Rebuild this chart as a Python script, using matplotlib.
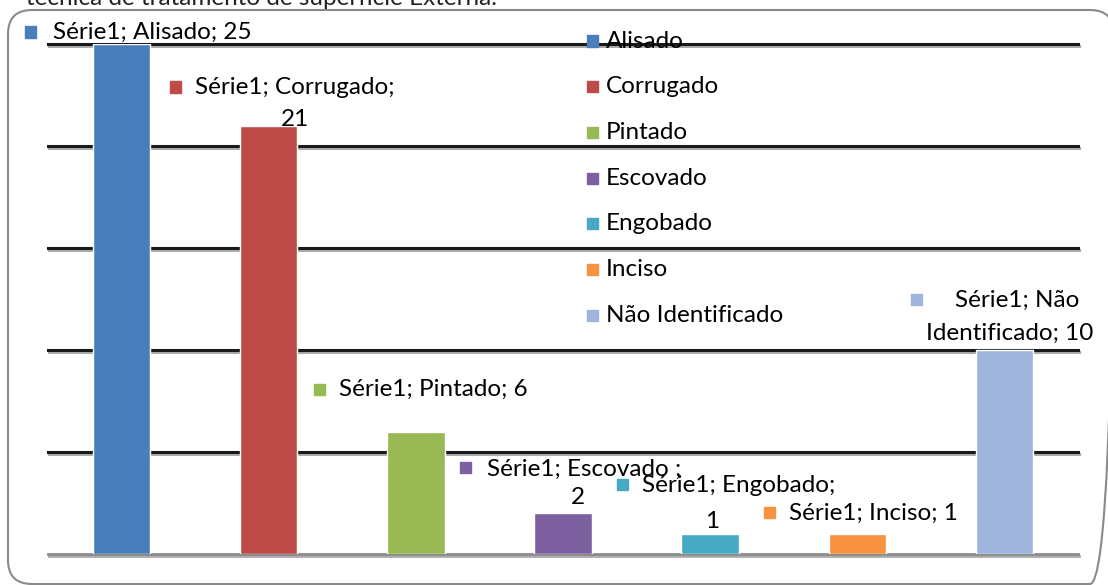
import matplotlib
matplotlib.use("Agg")
import matplotlib.pyplot as plt
from matplotlib.patches import Rectangle, FancyBboxPatch
import matplotlib.patheffects as pe

W, H = 1108, 585
plt.rcParams['font.family'] = ['Lato', 'DejaVu Sans']

categories = ["Alisado", "Corrugado", "Pintado", "Escovado", "Engobado", "Inciso", "Não Identificado"]
values = [25, 21, 6, 2, 1, 1, 10]
colors = ["#4A7EBB", "#BE4B48", "#98B954", "#7D60A0", "#46AAC5", "#F69240", "#A0B5DB"]
series_name = "Série1"
title = "técnica de tratamento de superfície Externa."
yticks = [5, 10, 15, 20, 25]
FS = 17.5

fig = plt.figure(figsize=(W / 100, H / 100), dpi=100)
fx = lambda px: px / W
fy = lambda py: 1 - py / H

# background overlay axes in pixel units for the rounded border
bg = fig.add_axes([0, 0, 1, 1])
bg.set_xlim(0, W)
bg.set_ylim(H, 0)
bg.axis('off')
bg.add_patch(FancyBboxPatch((8, 10), 1106, 574,
                            boxstyle="round,pad=0,rounding_size=24",
                            fill=False, edgecolor="#8a8a8a", lw=1.5, clip_on=False))

# partial title (cut at top)
fig.text(fx(26), fy(5), title, fontsize=FS, ha='left', va='baseline', color='#222')

ax = fig.add_axes([fx(48), fy(554), fx(1078) - fx(48), (554 - 44) / H])
ax.set_xlim(-0.5, len(categories) - 0.5)
ax.set_ylim(0, 25)
ax.axis('off')

shadow = [pe.SimpleLineShadow(offset=(0.8, -1.5), shadow_color='#888', alpha=0.7), pe.Normal()]
for t in yticks:
    ax.axhline(t, color='#1a1a1a', lw=2.2, zorder=1, path_effects=shadow, clip_on=False)
ax.axhline(0, color='#8c8c8c', lw=2, zorder=1, path_effects=shadow, clip_on=False)

x = list(range(len(categories)))
ax.bar(x, values, width=0.39, color=colors, edgecolor='white', lw=1, zorder=3)

def sq(px, py, c, s=11):
    fig.patches.append(Rectangle((fx(px - s / 2), fy(py + s / 2)), s / W, s / H,
                                 transform=fig.transFigure, color=c, zorder=5))

def txt(px, py, s, ha='left'):
    fig.text(fx(px), fy(py), s, fontsize=FS, ha=ha, va='center', color='black', zorder=6)

# legend
for i, (cat, c) in enumerate(zip(categories, colors)):
    py = 41 + i * 45.7
    sq(592, py, c)
    txt(606, py, cat)

# data labels
lab = lambda i: f"{series_name}; {categories[i]}; {values[i]}"
sq(30, 32, colors[0]); txt(53, 32, lab(0))
sq(175, 87, colors[1]); txt(195, 87, f"{series_name}; {categories[1]};"); txt(295, 120, str(values[1]), ha='center')
sq(319, 389, colors[2]); txt(339, 389, lab(2))
sq(465, 467, colors[3]); txt(487, 469, f"{series_name}; {categories[3]} ;"); txt(578, 497, str(values[3]), ha='center')
sq(622, 484, colors[4]); txt(642, 486, f"{series_name}; {categories[4]};"); txt(712, 521, str(values[4]), ha='center')
sq(769, 512, colors[5]); txt(789, 513, lab(5))
sq(916, 299, colors[6]); txt(1017, 300, f"{series_name}; Não", ha='center'); txt(1010, 333, f"Identificado; {values[6]}", ha='center')

fig.savefig("out.png", dpi=100)
